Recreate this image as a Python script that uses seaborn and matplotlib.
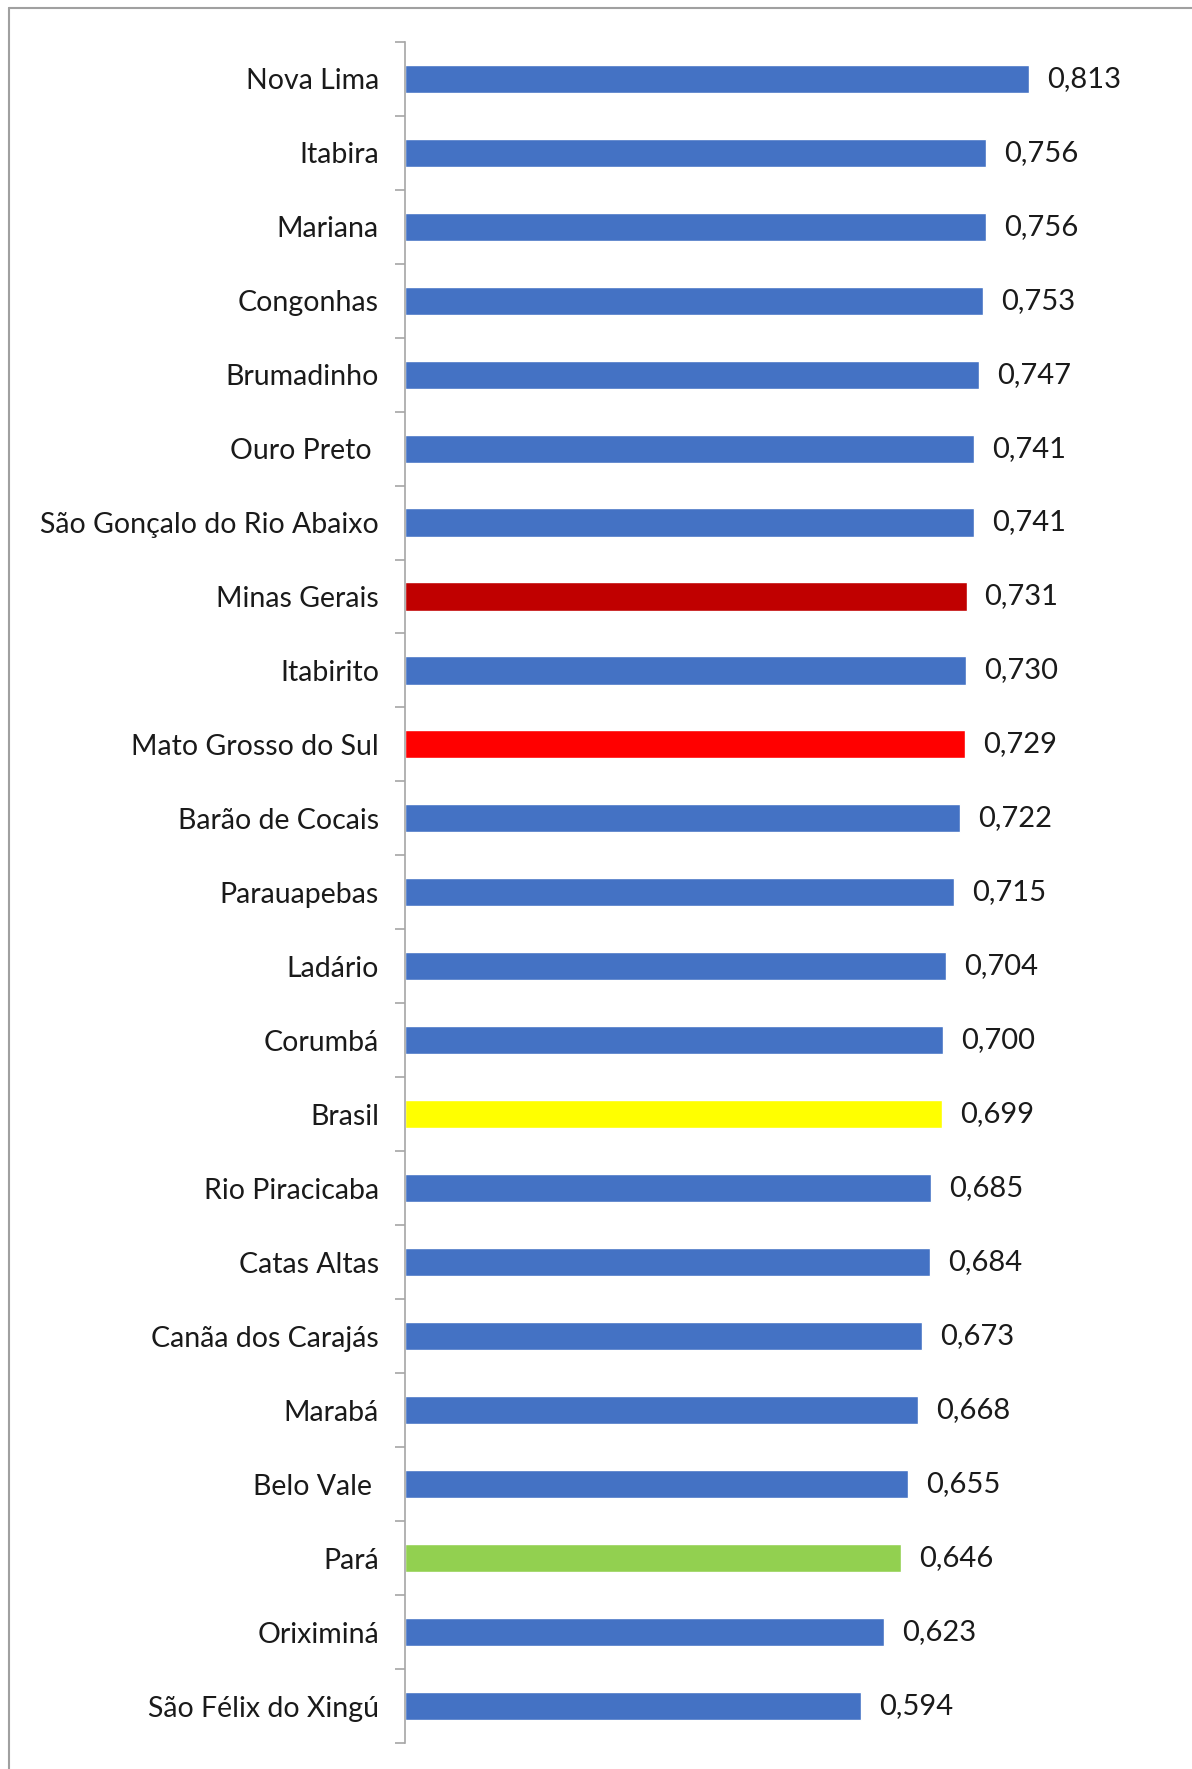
import matplotlib.pyplot as plt
import matplotlib.lines as mlines
import pandas as pd
import seaborn as sns

# Data
cities = ['Nova Lima', 'Itabira', 'Mariana', 'Congonhas', 'Brumadinho', 'Ouro Preto ',
          'São Gonçalo do Rio Abaixo', 'Minas Gerais', 'Itabirito', 'Mato Grosso do Sul',
          'Barão de Cocais', 'Parauapebas', 'Ladário', 'Corumbá', 'Brasil',
          'Rio Piracicaba', 'Catas Altas', 'Canãa dos Carajás', 'Marabá', 'Belo Vale ',
          'Pará', 'Oriximiná', 'São Félix do Xingú']
idh = [0.813, 0.756, 0.756, 0.753, 0.747, 0.741, 0.741, 0.731, 0.730, 0.729,
       0.722, 0.715, 0.704, 0.700, 0.699, 0.685, 0.684, 0.673, 0.668, 0.655,
       0.646, 0.623, 0.594]

blue = '#4472C4'
highlight = {'Minas Gerais': '#C00000', 'Mato Grosso do Sul': '#FF0000',
             'Brasil': '#FFFF00', 'Pará': '#92D050'}
colors = [highlight.get(c, blue) for c in cities]

df = pd.DataFrame({'city': cities, 'idh': idh})

sns.set_style('white')
plt.rcParams['font.family'] = ['Lato', 'DejaVu Sans']

fig = plt.figure(figsize=(11.92, 17.69), dpi=100)
ax = fig.add_axes([0.3400, 0.0147, 0.9841 - 0.3400, 0.9764 - 0.0147])

sns.barplot(data=df, y='city', x='idh', hue='city', palette=colors, legend=False,
            orient='h', width=0.38, ax=ax, saturation=1)

ax.set_xlim(0, 1.0)
ax.set_ylim(len(cities) - 0.5, -0.5)
ax.set_xlabel('')
ax.set_ylabel('')
ax.set_xticks([])

for spine in ['top', 'right', 'bottom']:
    ax.spines[spine].set_visible(False)
ax.spines['left'].set_color('#A6A6A6')
ax.spines['left'].set_linewidth(1.2)

# tick marks between categories, labels centred on bars
ax.set_yticks([i - 0.5 for i in range(len(cities) + 1)], minor=True)
ax.tick_params(axis='y', which='minor', length=7, width=1.2, color='#A6A6A6', left=True)
ax.tick_params(axis='y', which='major', length=0, pad=19, labelsize=20.5, labelcolor='#1a1a1a')

for cont in ax.containers:
    vals = cont.datavalues
    ax.bar_label(cont, labels=[f'{v:.3f}'.replace('.', ',') for v in vals],
                 padding=13, fontsize=21, color='#1a1a1a')

# chart frame (left and top edges visible in the crop)
fig.add_artist(mlines.Line2D([0.0076, 0.0076], [0.0, 0.9955], color='#A0A0A0',
                             lw=1.5, transform=fig.transFigure))
fig.add_artist(mlines.Line2D([0.0076, 1.0], [0.9955, 0.9955], color='#A0A0A0',
                             lw=1.5, transform=fig.transFigure))

fig.savefig('out.png', dpi=100)
